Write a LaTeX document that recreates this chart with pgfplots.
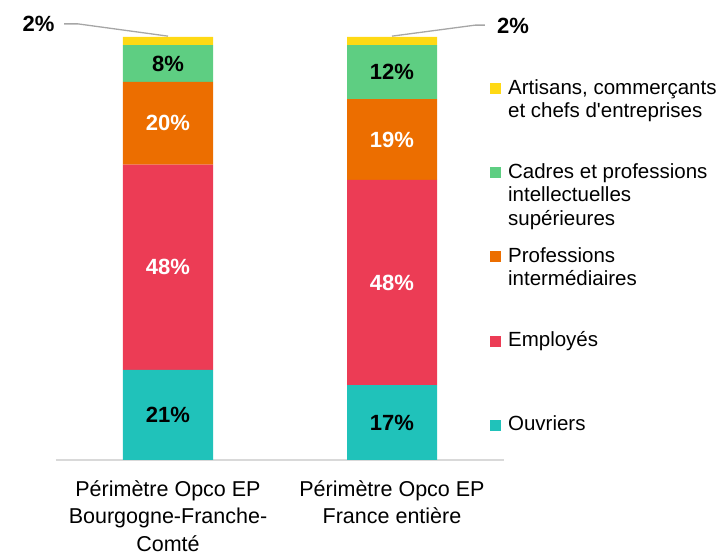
\documentclass[border=0pt]{standalone}
\usepackage{pgfplots}
\pgfplotsset{compat=1.18}
\usepackage{pgfplotstable}
\usepackage{fontspec}
\setmainfont{Liberation Sans}

\definecolor{cOuv}{HTML}{20C2BA}
\definecolor{cEmp}{HTML}{EC3C55}
\definecolor{cPro}{HTML}{EC6E00}
\definecolor{cCad}{HTML}{5ECE82}
\definecolor{cArt}{HTML}{FFD914}
\definecolor{axgray}{HTML}{D9D9D9}
\definecolor{leadgray}{HTML}{A6A6A6}

% segment heights (each bar sums to 100)
\pgfplotstableread{
x ouv  emp  pro  cad  art
0 21.3 48.5 19.6 8.7  1.9
1 17.7 48.5 19.1 12.8 1.9
}\data

% printed labels, placed at the middle of their segment
\pgfplotstableread{
x y     lbl
0 10.65 21
0 93.75 8
1 8.85  17
1 91.7  12
}\lblblack
\pgfplotstableread{
x y     lbl
0 45.55 48
0 79.6  20
1 41.95 48
1 75.75 19
}\lblwhite

\newcommand{\lentry}[1]{\parbox[t]{215pt}{#1}}

\pgfplotsset{
  base/.style={
    at={(0,0)}, anchor=south west,
    width=448pt, height=423pt, scale only axis,
    xmin=-0.5, xmax=1.5, ymin=0, ymax=100,
    clip=false,
  },
}

\begin{document}
\begin{tikzpicture}
\begin{axis}[
  base,
  ybar stacked, bar width=90pt,
  axis x line*=bottom, axis y line=none,
  x axis line style={draw=axgray, line width=1.5pt},
  xtick={0,1}, ytick=\empty, major tick length=0pt,
  xticklabels={{Périmètre Opco EP\\Bourgogne-Franche-\\Comté},{Périmètre Opco EP\\France entière}},
  xticklabel style={align=center, font=\fontsize{21.5}{27.5}\selectfont, yshift=-17pt},
  reverse legend,
  legend image code/.code={\fill[#1] (0pt,0pt) rectangle (11pt,11pt);
    \path[draw=none, fill=none] (0pt,-67.3pt) rectangle (0pt,16pt);},
  legend style={at={(rel axis cs:0.969,0.905)}, anchor=north west,
    draw=none, fill=none, inner sep=0pt, outer sep=0pt,
    column sep=5pt, row sep=0pt,
    font=\fontsize{20.5}{23.5}\selectfont,
    cells={anchor=base west}},
]
\addplot[fill=cOuv, draw=none] table[x=x, y=ouv] {\data};
\addlegendentry{\lentry{Ouvriers}}
\addplot[fill=cEmp, draw=none] table[x=x, y=emp] {\data};
\addlegendentry{\lentry{Employés}}
\addplot[fill=cPro, draw=none] table[x=x, y=pro] {\data};
\addlegendentry{\lentry{Professions\\intermédiaires}}
\addplot[fill=cCad, draw=none] table[x=x, y=cad] {\data};
\addlegendentry{\lentry{Cadres et professions\\intellectuelles\\supérieures}}
\addplot[fill=cArt, draw=none] table[x=x, y=art] {\data};
\addlegendentry{\lentry{Artisans, commerçants\\et chefs d\textquotesingle entreprises}}

% leader lines for the small top segments
\draw[leadgray, line width=1.3pt] (axis cs:-0.464,103.1) -- (axis cs:-0.402,103.1) -- (axis cs:0,100.2);
\node[font=\fontsize{22}{26}\selectfont\bfseries] at (axis cs:-0.578,103.1) {2\%};
\draw[leadgray, line width=1.3pt] (axis cs:1,100.2) -- (axis cs:1.371,102.8) -- (axis cs:1.415,102.8);
\node[font=\fontsize{22}{26}\selectfont\bfseries] at (axis cs:1.540,102.6) {2\%};
\end{axis}

% overlay axis carrying the segment labels
\begin{axis}[
  base, hide axis,
  point meta=explicit symbolic,
  nodes near coords={\pgfplotspointmeta\%},
  nodes near coords style={anchor=center, font=\fontsize{22}{26}\selectfont\bfseries},
]
\addplot[only marks, mark=none, nodes near coords style={text=black}] table[x=x, y=y, meta=lbl] {\lblblack};
\addplot[only marks, mark=none, nodes near coords style={text=white}] table[x=x, y=y, meta=lbl] {\lblwhite};
\end{axis}
\pgfresetboundingbox
\path ([xshift=-56pt,yshift=-93pt]current axis.south west) rectangle ([xshift=221pt,yshift=37pt]current axis.north east);
\end{tikzpicture}
\end{document}
